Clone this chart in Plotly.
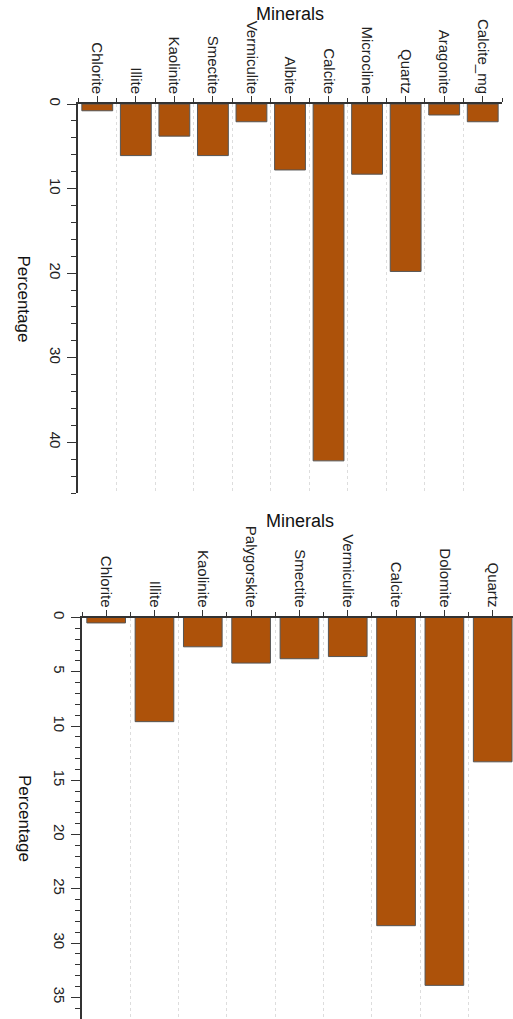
import plotly.graph_objects as go

# ---- data ----
top_minerals = ["Chlorite", "Illite", "Kaolinite", "Smectite", "Vermiculite", "Albite",
                "Calcite", "Microcline", "Quartz", "Aragonite", "Calcite_mg"]
top_values = [0.8, 6.1, 3.8, 6.1, 2.1, 7.8, 42.2, 8.3, 19.8, 1.3, 2.1]

bottom_minerals = ["Chlorite", "Illite", "Kaolinite", "Palygorskite", "Smectite",
                   "Vermiculite", "Calcite", "Dolomite", "Quartz"]
bottom_values = [0.5, 9.6, 2.7, 4.2, 3.8, 3.6, 28.4, 33.9, 13.3]

W, H = 513, 1019
BAR = "#AD520A"
AX = "#333333"
FONT = "Liberation Sans, Arial, sans-serif"

fig = go.Figure()
fig.add_trace(go.Bar(x=list(range(len(top_minerals))), y=top_values,
                     marker=dict(color=BAR, line=dict(color="#555555", width=1)),
                     xaxis="x", yaxis="y", showlegend=False))
fig.add_trace(go.Bar(x=list(range(len(bottom_minerals))), y=bottom_values,
                     marker=dict(color=BAR, line=dict(color="#555555", width=1)),
                     xaxis="x2", yaxis="y2", showlegend=False))


def xaxis_cfg(domain, rng, cats, anchor):
    return dict(domain=domain, range=rng, anchor=anchor, side="top",
                tickmode="array", tickvals=list(range(len(cats))), ticktext=cats,
                tickangle=90, ticks="outside", ticklen=6, tickwidth=1, tickcolor=AX,
                tickfont=dict(family=FONT, size=15, color="#222"),
                ticklabelstandoff=-3,
                showline=True, linecolor=AX, linewidth=1.5,
                showgrid=False, zeroline=False, automargin=False,
                minor=dict(tick0=0.5, dtick=1, ticks="outside", ticklen=4, tickcolor=AX,
                           showgrid=True, gridcolor="#dddddd", griddash="dot", gridwidth=1))


def yaxis_cfg(domain, rng, dtick, mdtick, anchor):
    return dict(domain=domain, range=rng, anchor=anchor, dtick=dtick, tick0=0,
                tickangle=90, ticks="outside", ticklen=9, tickwidth=1, tickcolor=AX,
                tickfont=dict(family=FONT, size=15, color="#222"),
                ticklabelstandoff=-1,
                showline=True, linecolor=AX, linewidth=1.5,
                showgrid=False, zeroline=False, automargin=False,
                minor=dict(dtick=mdtick, tick0=0, ticks="outside", ticklen=5, tickcolor=AX,
                           showgrid=False))


fig.update_layout(
    width=W, height=H,
    margin=dict(l=0, r=0, t=0, b=0),
    paper_bgcolor="white", plot_bgcolor="white",
    bargap=0.2,
    xaxis=xaxis_cfg([78 / W, 502 / W], [-0.5, 10.5], top_minerals, "y"),
    yaxis=yaxis_cfg([(H - 493) / H, (H - 104) / H], [46.0, 0], 10, 2, "x"),
    xaxis2=xaxis_cfg([82 / W, 1.0], [-0.5, 8.42], bottom_minerals, "y2"),
    yaxis2=yaxis_cfg([0, (H - 617.5) / H], [37.0, 0], 5, 1, "x2"),
    annotations=[
        dict(text="Minerals", x=290 / W, y=(H - 14) / H, xref="paper", yref="paper",
             showarrow=False, xanchor="center", yanchor="middle",
             font=dict(family=FONT, size=18, color="#111")),
        dict(text="Minerals", x=299.5 / W, y=(H - 521) / H, xref="paper", yref="paper",
             showarrow=False, xanchor="center", yanchor="middle",
             font=dict(family=FONT, size=18, color="#111")),
        dict(text="Percentage", x=23 / W, y=(H - 298.5) / H, xref="paper", yref="paper",
             showarrow=False, xanchor="center", yanchor="middle", textangle=90,
             font=dict(family=FONT, size=17, color="#111")),
        dict(text="Percentage", x=25 / W, y=(H - 818) / H, xref="paper", yref="paper",
             showarrow=False, xanchor="center", yanchor="middle", textangle=90,
             font=dict(family=FONT, size=17, color="#111")),
    ],
)

fig.write_html("out.html", config={"displayModeBar": False},
               post_script="document.body.style.margin='0';document.body.style.padding='0';document.body.style.overflow='hidden';")
